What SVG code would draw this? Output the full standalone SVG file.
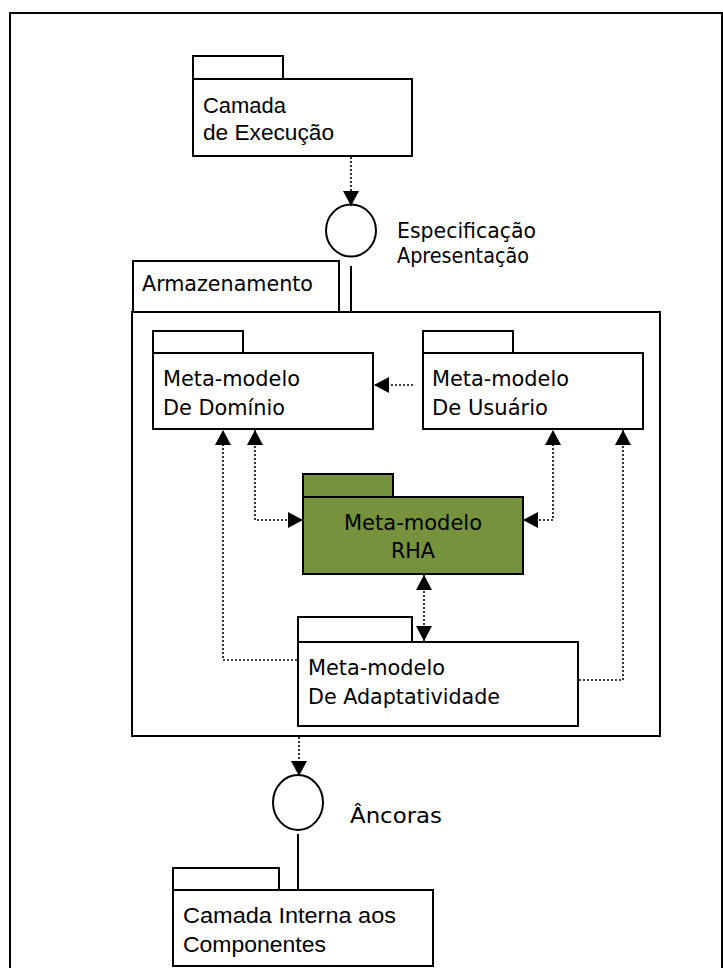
<svg xmlns="http://www.w3.org/2000/svg" width="723" height="968" viewBox="0 0 723 968">
  <style>
    .box { fill: #ffffff; stroke: #000000; stroke-width: 2; }
    .green { fill: #76923C; stroke: #000000; stroke-width: 2; }
    .iface { fill: none; stroke: #000000; stroke-width: 2; }
    .solid { fill: none; stroke: #000000; stroke-width: 2; }
    .dot { fill: none; stroke: #000000; stroke-width: 1.6; stroke-dasharray: 2 2; }
    .lbl { font-family: "DejaVu Sans Condensed", "DejaVu Sans", sans-serif; font-size: 22px; fill: #000000; }
    .narrow { font-family: "Liberation Sans", Arial, sans-serif; font-size: 22px; fill: #000000; }
  </style>
  <defs>
    <marker id="tip" markerUnits="userSpaceOnUse" markerWidth="16" markerHeight="16" viewBox="0 0 15 16" refX="15" refY="8" orient="auto-start-reverse">
      <path d="M0,0 L15,8 L0,16 Z" fill="#000000"/>
    </marker>
  </defs>

  <!-- outer frame -->
  <rect x="10" y="13" width="712" height="980" fill="none" stroke="#000000" stroke-width="2"/>

  <!-- Armazenamento container -->
  <g id="armazenamento">
    <rect class="box" x="133" y="261" width="206" height="51"/>
    <rect class="box" x="132" y="312" width="528" height="424"/>
    <text class="lbl" x="142" y="291" textLength="171" lengthAdjust="spacingAndGlyphs">Armazenamento</text>
  </g>

  <g id="camada-execucao">
    <rect class="box" x="193" y="56" width="90" height="23"/>
    <rect class="box" x="193" y="79" width="219" height="77"/>
    <text class="narrow" x="203" y="113" textLength="83" lengthAdjust="spacingAndGlyphs">Camada</text>
    <text class="narrow" x="203" y="140" textLength="131" lengthAdjust="spacingAndGlyphs">de Execução</text>
  </g>

  <g id="especificacao-apresentacao">
    <ellipse class="iface" cx="351" cy="230.5" rx="25" ry="26"/>
    <text class="lbl" x="397" y="238" textLength="139" lengthAdjust="spacingAndGlyphs">Especificação</text>
    <text class="lbl" x="397" y="263" textLength="132" lengthAdjust="spacingAndGlyphs">Apresentação</text>
  </g>

  <g id="meta-dominio">
    <rect class="box" x="153" y="331" width="90" height="22"/>
    <rect class="box" x="153" y="353" width="220" height="76"/>
    <text class="lbl" x="163" y="386" textLength="137" lengthAdjust="spacingAndGlyphs">Meta-modelo</text>
    <text class="lbl" x="163" y="415" textLength="122" lengthAdjust="spacingAndGlyphs">De Domínio</text>
  </g>

  <g id="meta-usuario">
    <rect class="box" x="423" y="331" width="90" height="22"/>
    <rect class="box" x="423" y="353" width="220" height="76"/>
    <text class="lbl" x="432" y="386" textLength="137" lengthAdjust="spacingAndGlyphs">Meta-modelo</text>
    <text class="lbl" x="432" y="415" textLength="116" lengthAdjust="spacingAndGlyphs">De Usuário</text>
  </g>

  <g id="meta-rha">
    <rect class="green" x="303" y="474" width="90" height="23"/>
    <rect class="green" x="303" y="497" width="220" height="77"/>
    <text class="lbl" x="413" y="530" text-anchor="middle" textLength="138" lengthAdjust="spacingAndGlyphs">Meta-modelo</text>
    <text class="lbl" x="413" y="558" text-anchor="middle" textLength="44" lengthAdjust="spacingAndGlyphs">RHA</text>
  </g>

  <g id="meta-adaptatividade">
    <rect class="box" x="298" y="617" width="114" height="25"/>
    <rect class="box" x="298" y="642" width="280" height="84"/>
    <text class="lbl" x="308" y="675" textLength="137" lengthAdjust="spacingAndGlyphs">Meta-modelo</text>
    <text class="lbl" x="308" y="704" textLength="192" lengthAdjust="spacingAndGlyphs">De Adaptatividade</text>
  </g>

  <g id="ancoras">
    <ellipse class="iface" cx="298" cy="802.5" rx="25" ry="27.5"/>
    <text class="lbl" x="350" y="823" textLength="92" lengthAdjust="spacingAndGlyphs">Âncoras</text>
  </g>

  <g id="camada-interna">
    <rect class="box" x="173" y="868" width="106" height="22"/>
    <rect class="box" x="173" y="890" width="260" height="76"/>
    <text class="narrow" x="183" y="923" textLength="213" lengthAdjust="spacingAndGlyphs">Camada Interna aos</text>
    <text class="narrow" x="183" y="952" textLength="143" lengthAdjust="spacingAndGlyphs">Componentes</text>
  </g>

  <!-- connectors -->
  <g id="connectors">
    <path class="dot" d="M351,157 L351,206" marker-end="url(#tip)"/>
    <path class="solid" d="M351,266 L351,312"/>
    <path class="dot" d="M413,385 L374,385" marker-end="url(#tip)"/>
    <path class="dot" d="M255,430 L255,520 L303,520" marker-start="url(#tip)" marker-end="url(#tip)"/>
    <path class="dot" d="M297,660 L223,660 L223,430" marker-end="url(#tip)"/>
    <path class="dot" d="M523,520 L553,520 L553,430" marker-start="url(#tip)" marker-end="url(#tip)"/>
    <path class="dot" d="M579,680 L623,680 L623,430" marker-end="url(#tip)"/>
    <path class="dot" d="M424,575 L424,641" marker-start="url(#tip)" marker-end="url(#tip)"/>
    <path class="dot" d="M299,737 L299,776" marker-end="url(#tip)"/>
    <path class="solid" d="M298,834 L298,890"/>
  </g>
</svg>
